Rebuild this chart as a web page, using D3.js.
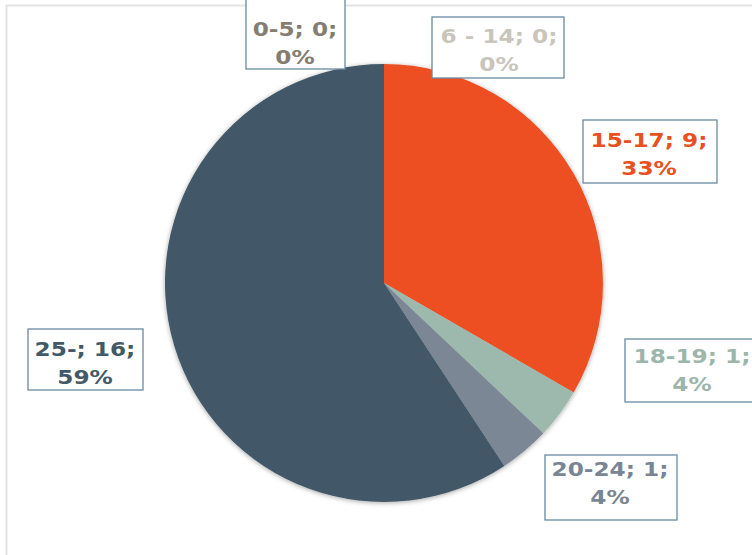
<!DOCTYPE html>
<html><head><meta charset="utf-8">
<script src="https://cdn.jsdelivr.net/npm/d3@7/dist/d3.min.js"></script>
<style>html,body{margin:0;padding:0;background:#fff;overflow:hidden}</style>
</head><body>
<svg id="chart" width="752" height="555"></svg>
<script>
const categories = ["0-5", "6 - 14", "15-17", "18-19", "20-24", "25-"];
const counts = [0, 0, 9, 1, 1, 16];
const percentLabels = ["0%", "0%", "33%", "4%", "4%", "59%"];
const sliceColors = ["#8a8276", "#c9c5bd", "#ee5022", "#9db9ad", "#7c8796", "#425967"];
const textColors = ["#857d70", "#c9c5bd", "#e8501f", "#9cb6ab", "#7a8594", "#425967"];
// label layout: box [x0, y0, x1, y1], text centre x, first baseline y
const labelBox = [[246, -2, 345, 69], [432, 17, 564, 78], [583, 120, 717, 183], [625, 339, 759, 402], [545, 455, 677, 520], [28, 329, 143, 390]];
const labelText = [[295, 36], [499, 43], [649, 147], [692, 363], [610, 476], [85, 356]];

const svg = d3.select("#chart");
const defs = svg.append("defs");
const f = defs.append("filter").attr("id", "sh").attr("x", "-10%").attr("y", "-10%").attr("width", "120%").attr("height", "120%");
f.append("feGaussianBlur").attr("in", "SourceAlpha").attr("stdDeviation", 2.5).attr("result", "b");
f.append("feOffset").attr("in", "b").attr("dx", 0).attr("dy", 1).attr("result", "o");
f.append("feComponentTransfer").attr("in", "o").attr("result", "o2")
  .append("feFuncA").attr("type", "linear").attr("slope", 0.35);
const m = f.append("feMerge");
m.append("feMergeNode").attr("in", "o2");
m.append("feMergeNode").attr("in", "SourceGraphic");

// chart area border
svg.append("rect").attr("x", 6.5).attr("y", 5.5).attr("width", 800).attr("height", 600)
  .attr("fill", "#fff").attr("stroke", "#e3e3e3").attr("stroke-width", 2);

const cx = 384, cy = 283, r = 219;
const pie = d3.pie().sort(null).value(d => d)(counts);
const arc = d3.arc().innerRadius(0).outerRadius(r);
const g = svg.append("g").attr("transform", `translate(${cx},${cy})`).attr("filter", "url(#sh)");
g.selectAll("path").data(pie).join("path")
  .attr("d", arc)
  .attr("fill", (d, i) => sliceColors[i]);

const lab = svg.append("g");
categories.forEach((c, i) => {
  const [x0, y0, x1, y1] = labelBox[i];
  const [tx, ty] = labelText[i];
  const gg = lab.append("g");
  gg.append("rect").attr("x", x0).attr("y", y0).attr("width", x1 - x0).attr("height", y1 - y0)
    .attr("fill", "#fff").attr("stroke", "#6a8aa0").attr("stroke-width", 1.3);
  const t = gg.append("text").attr("text-anchor", "middle")
    .attr("transform", `translate(${tx},0) scale(1.16,1)`)
    .attr("font-family", "DejaVu Sans, Verdana, sans-serif").attr("font-weight", "bold")
    .attr("font-size", 20).attr("fill", textColors[i]);
  t.append("tspan").attr("x", 0).attr("y", ty).text(`${c}; ${counts[i]};`);
  t.append("tspan").attr("x", 0).attr("y", ty + 28).text(percentLabels[i]);
});
</script>
</body></html>
